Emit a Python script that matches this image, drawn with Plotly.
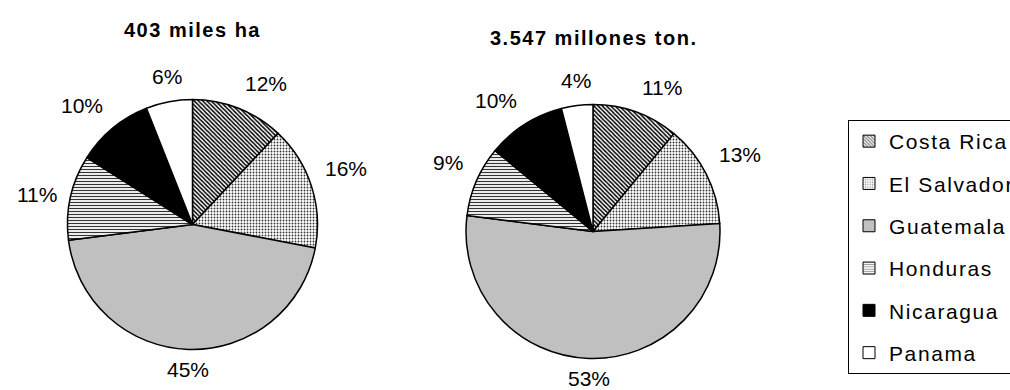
import math
import plotly.graph_objects as go

# Shares by country (percent) for the two pies
countries = ["Costa Rica", "El Salvador", "Guatemala", "Honduras", "Nicaragua", "Panama"]
area_pct = [12, 16, 45, 11, 10, 6]
prod_pct = [11, 13, 53, 9, 10, 4]
titles = ["403 miles ha", "3.547 millones ton."]

W, H = 1010, 390
FONT = "Liberation Sans, Arial, sans-serif"

# Fill style per country: base colour plus optional hatch pattern
fill_colors = ["white", "white", "#C0C0C0", "white", "black", "white"]
pat_shapes = ["\\", ".", "", "-", "", ""]
pat_fg = ["#000000", "#333333", "#000000", "#333333", "#000000", "#000000"]
pat_size = [3, 3, 4, 3, 4, 4]
pat_solid = [0.5, 0.3, 0.3, 0.4, 0.3, 0.3]


def spaced(s, px):
    return f'<span style="letter-spacing:{px}px">{s}</span>'


def domain(cx, cy, r):
    return dict(x=[(cx - r) / W, (cx + r) / W], y=[(H - cy - r) / H, (H - cy + r) / H])


def pie_marker():
    return dict(
        colors=fill_colors,
        line=dict(color="black", width=1.5),
        pattern=dict(shape=pat_shapes, fgcolor=pat_fg, bgcolor=fill_colors,
                     size=pat_size, solidity=pat_solid),
    )


def add_value_labels(fig, vals, cx, cy, r, gap=12):
    """Percent labels just outside each slice, anchored on the side facing the pie."""
    total = float(sum(vals))
    cum = 0.0
    for v in vals:
        mid = (cum + v / 2) / total * 2 * math.pi  # clockwise from 12 o'clock
        cum += v
        s, c = math.sin(mid), math.cos(mid)
        xa = "left" if s > 0.3 else ("right" if s < -0.3 else "center")
        ya = "bottom" if c > 0.3 else ("top" if c < -0.3 else "middle")
        g = gap - 5 if ya == "top" else gap  # labels under the pie sit a bit closer
        px = cx + (r + g) * s
        py = cy - (r + g) * c
        fig.add_annotation(
            text=f"{v}%", x=px / W, y=1 - py / H, xref="paper", yref="paper",
            xanchor=xa, yanchor=ya, showarrow=False,
            font=dict(family=FONT, size=21, color="black"),
        )


fig = go.Figure()

pies = [
    (area_pct, 192.5, 224.5, 125, 30),
    (prod_pct, 593, 231.5, 127, 38),
]

for (vals, cx, cy, r, ty), title in zip(pies, titles):
    fig.add_trace(go.Pie(
        labels=countries, values=vals, sort=False, direction="clockwise", rotation=0,
        domain=domain(cx, cy, r), marker=pie_marker(), textinfo="none",
        showlegend=False, hoverinfo="label+percent",
    ))
    add_value_labels(fig, vals, cx, cy, r)
    fig.add_annotation(
        text="<b>" + spaced(title, 1.5) + "</b>", x=cx / W, y=1 - ty / H,
        xref="paper", yref="paper", xanchor="center", yanchor="middle", showarrow=False,
        font=dict(family=FONT, size=20, color="black"),
    )

# legend entries (one group per country so the rows can be spaced out)
for i, c in enumerate(countries):
    fig.add_trace(go.Bar(
        x=[None], y=[None], name=spaced(c, 1.6), legendgroup=c,
        marker=dict(color=fill_colors[i], line=dict(color="black", width=1),
                    pattern=dict(shape=pat_shapes[i], fgcolor=pat_fg[i], bgcolor=fill_colors[i],
                                 size=pat_size[i], solidity=pat_solid[i])),
        hoverinfo="skip",
    ))

fig.update_layout(
    width=W, height=H, margin=dict(l=0, r=0, t=0, b=0, autoexpand=False),
    paper_bgcolor="white", plot_bgcolor="white",
    font=dict(family=FONT, color="black"),
    xaxis=dict(visible=False, domain=[0.99, 1.0]),
    yaxis=dict(visible=False, domain=[0.0, 0.01]),
    showlegend=True,
    legend=dict(
        x=848 / W, xanchor="left", y=1 - 120 / H, yanchor="top",
        bordercolor="black", borderwidth=1, bgcolor="white",
        font=dict(family=FONT, size=21, color="black"),
        traceorder="grouped", tracegroupgap=12, itemwidth=30,
    ),
)

fig.write_html("out.html")
